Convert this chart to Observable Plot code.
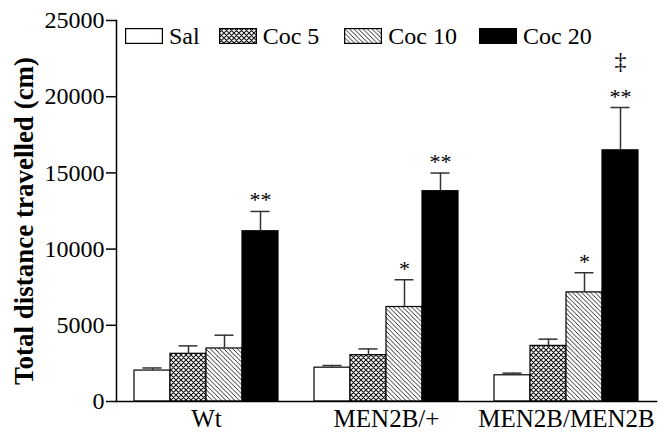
<!DOCTYPE html>
<html>
<head>
<meta charset="utf-8">
<script src="https://cdn.jsdelivr.net/npm/d3@7"></script>
<script src="https://cdn.jsdelivr.net/npm/@observablehq/plot@0.6"></script>
<style>
  body { margin: 0; background: #fff; }
  #wrap { position: relative; width: 660px; height: 433px; }
  #legend { position: absolute; left: 125px; top: 24px; display: flex; align-items: center;
            font-family: "Liberation Serif", serif; font-size: 24px; color: #000; line-height: 1; }
  #legend .item { display: flex; align-items: center; }
  #legend .item span { margin-left: 6px; }
</style>
</head>
<body>
<svg width="0" height="0" style="position:absolute">
  <defs>
    <pattern id="cross" patternUnits="userSpaceOnUse" width="5" height="5">
      <rect width="5" height="5" fill="#fff"/>
      <path d="M-1,-1L6,6M-1,4L1,6M4,-1L6,1M-1,6L6,-1M-1,1L1,-1M4,6L6,4" stroke="#111" stroke-width="1.1"/>
    </pattern>
    <pattern id="hatch" patternUnits="userSpaceOnUse" width="4.5" height="4.5">
      <rect width="4.5" height="4.5" fill="#fff"/>
      <path d="M-1,-1L5.5,5.5M-1,3.5L1,5.5M3.5,-1L5.5,1" stroke="#111" stroke-width="0.9"/>
    </pattern>
  </defs>
</svg>
<div id="wrap"><div id="legend"></div></div>
<script>
const groups = ["Wt", "MEN2B/+", "MEN2B/MEN2B"];
const series = ["Sal", "Coc 5", "Coc 10", "Coc 20"];
const meansWt = [2030, 3130, 3480, 11170];
const meansHet = [2220, 3040, 6200, 13800];
const meansHom = [1720, 3650, 7160, 16480];
const semWt = [170, 520, 870, 1300];
const semHet = [140, 410, 1790, 1190];
const semHom = [140, 440, 1290, 2810];
const sigWt = ["", "", "", "**"];
const sigHet = ["", "", "*", "**"];
const sigHom = ["", "", "*", "**"];
const daggerHom = ["", "", "", "‡"];
const yTicks = [0, 5000, 10000, 15000, 20000, 25000];
const fills = ["#fff", "url(#cross)", "url(#hatch)", "#000"];
const legendGaps = [19, 25, 22, 0];

const means = [meansWt, meansHet, meansHom];
const sems = [semWt, semHet, semHom];
const sigs = [sigWt, sigHet, sigHom];
const daggers = [["", "", "", ""], ["", "", "", ""], daggerHom];

const rows = groups.flatMap((g, i) => series.map((s, j) => ({
  group: g, series: s, mean: means[i][j], upper: means[i][j] + sems[i][j],
  sig: sigs[i][j], dagger: daggers[i][j]
})));

const font = "Liberation Serif";
const chart = Plot.plot({
  width: 660, height: 433,
  marginLeft: 115, marginRight: 4, marginTop: 20, marginBottom: 32,
  style: { fontFamily: font, background: "#fff", color: "#000" },
  fx: { domain: groups, paddingInner: 0, paddingOuter: 0, label: null },
  x: { domain: series, paddingInner: 0, paddingOuter: 0.5, axis: null },
  y: { domain: [0, 25000], label: null },
  marks: [
    ...series.map((s, k) => Plot.barY(rows.filter(d => d.series === s), {
      fx: "group", x: "series", y: "mean", fill: fills[k], stroke: "#000", strokeWidth: 1.2
    })),
    Plot.ruleX(rows, { fx: "group", x: "series", y1: "mean", y2: "upper", stroke: "#333", strokeWidth: 1.5 }),
    Plot.tickY(rows, { fx: "group", x: "series", y: "upper", stroke: "#333", strokeWidth: 1.5, insetLeft: 8.5, insetRight: 8.5 }),
    Plot.text(rows.filter(d => d.sig), { fx: "group", x: "series", y: "upper", text: "sig", fontSize: 22, lineAnchor: "bottom", dy: -4 }),
    Plot.text(rows.filter(d => d.dagger), { fx: "group", x: "series", y: "upper", text: "dagger", fontSize: 24, lineAnchor: "bottom", dy: -39 }),
    Plot.axisY({ ticks: yTicks, tickFormat: d => String(d), tickSize: 10, tickPadding: 2, fontSize: 24, fontFamily: font, label: null, strokeWidth: 1.5 }),
    Plot.axisFx({ anchor: "bottom", tickSize: 0, tickPadding: 8, fontSize: 25, fontFamily: font, label: null }),
    Plot.frame({ anchor: "left", facet: "super", strokeWidth: 1.5 }),
    Plot.frame({ anchor: "bottom", facet: "super", strokeWidth: 1.5 }),
    Plot.text(["Total distance travelled (cm)"], { frameAnchor: "left", textAnchor: "middle", rotate: -90, dx: -92, dy: 10, fontSize: 27, fontWeight: "bold", fontFamily: font, facet: "super" })
  ]
});
document.getElementById("wrap").prepend(chart);

const legend = document.getElementById("legend");
series.forEach((s, k) => {
  const item = document.createElement("div");
  item.className = "item";
  item.style.marginRight = legendGaps[k] + "px";
  item.innerHTML = `<svg width="38" height="16"><rect x="0.6" y="0.6" width="36.8" height="14.8" fill="${fills[k]}" stroke="#000" stroke-width="1.2"/></svg><span>${s}</span>`;
  legend.appendChild(item);
});
</script>
</body>
</html>
